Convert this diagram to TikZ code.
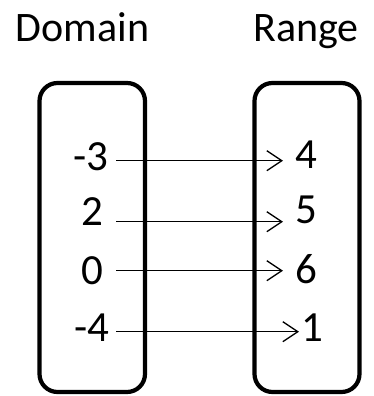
\documentclass[tikz,border=0pt]{standalone}
\usepackage{fontspec}
\setmainfont{Carlito}
\usetikzlibrary{arrows.meta}
\begin{document}
\begin{tikzpicture}[x=1pt,y=-1pt,
  setbox/.style={draw,line width=4.2pt,rounded corners=18pt,inner sep=0pt,outer sep=0pt},
  title/.style={font=\fontsize{42}{44}\selectfont,anchor=base,inner sep=0pt},
  num/.style={font=\fontsize{43}{45}\selectfont,anchor=base,inner sep=0pt},
  arr/.style={line width=1.3pt,-{Straight Barb[length=15pt,width=20pt,line width=1.3pt]}}]
\useasboundingbox (0,0) rectangle (373,396);
\node[setbox,minimum width=105.5pt,minimum height=309pt] (dom) at (92.25,237.5) {};
\node[setbox,minimum width=105pt,minimum height=309pt] (ran) at (307,237.5) {};
\node[title] (tdom) at (82.5,42) {Domain};
\node[title] (tran) at (306,42) {Range};
\node[num] (d1) at (91,170) {-3};
\node[num] (d2) at (92,225) {2};
\node[num] (d3) at (92.5,284.5) {0};
\node[num] (d4) at (91.5,341.7) {-4};
\node[num] (r1) at (306,168) {4};
\node[num] (r2) at (306,223) {5};
\node[num] (r3) at (306,283) {6};
\node[num] (r4) at (312.5,341.7) {1};
\coordinate (s1) at (116,160.7);
\coordinate (e1) at (283,160.7);
\coordinate (s2) at (116,221.7);
\coordinate (e2) at (283,221.7);
\coordinate (s3) at (116,270.7);
\coordinate (e3) at (283,270.7);
\coordinate (s4) at (116,331.7);
\coordinate (e4) at (299,331.7);
\draw[arr] (s1) -- (e1);
\draw[arr] (s2) -- (e2);
\draw[arr] (s3) -- (e3);
\draw[arr] (s4) -- (e4);
\end{tikzpicture}
\end{document}
